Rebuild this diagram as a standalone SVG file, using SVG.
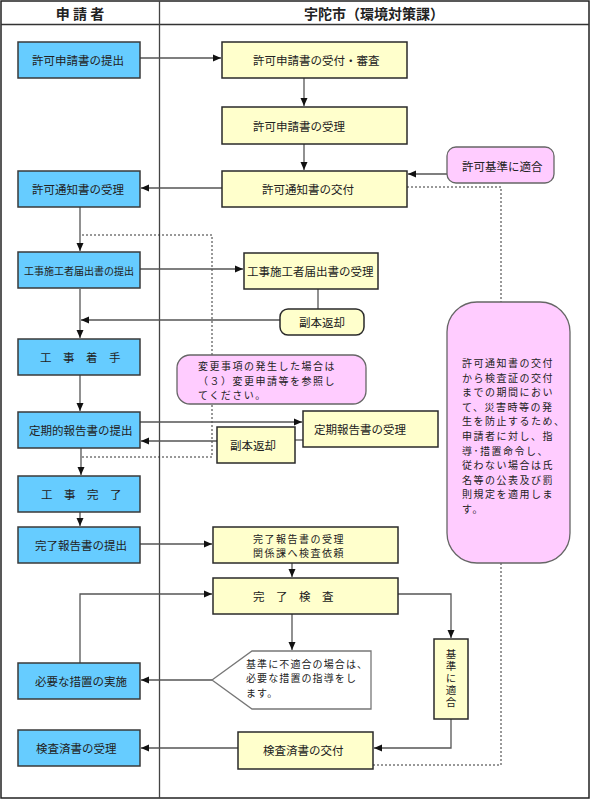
<svg xmlns="http://www.w3.org/2000/svg" width="591" height="800" viewBox="0 0 591 800">
<defs>
<marker id="ah" viewBox="0 0 8 8" refX="8" refY="4" markerWidth="8" markerHeight="8" markerUnits="userSpaceOnUse" orient="auto">
<path d="M0,0.5 L8,4 L0,7.5 Z" fill="#111"/>
</marker>
<style>
text{font-family:"Noto Sans CJK JP","Noto Sans",sans-serif;fill:#222;font-size:11.5px;dominant-baseline:central}
.h{font-size:14px;font-weight:bold}
.blue{fill:#66CCFF;stroke:#3a3a3a;stroke-width:1.5}
.yel{fill:#FFFFCC;stroke:#2a2a2a;stroke-width:1.5}
.pink{fill:#FFCCFF;stroke:#666;stroke-width:1.3}
.wht{fill:#fff;stroke:#777;stroke-width:1.3}
.c{fill:none;stroke:#555;stroke-width:1.3}
.a{fill:none;stroke:#555;stroke-width:1.3;marker-end:url(#ah)}
.d{fill:none;stroke:#333;stroke-width:1;stroke-dasharray:2,2}
.sm{font-size:10px}
.ml{font-size:10px;letter-spacing:1.5px}
.vt{font-size:10.5px;writing-mode:vertical-rl;letter-spacing:1.5px}
</style>
</defs>
<rect x="0" y="0" width="591" height="800" fill="#fff"/>
<g id="frame">
<rect x="1" y="1" width="588" height="797" fill="none" stroke="#222" stroke-width="1.5"/>
<line x1="1" y1="24.5" x2="589" y2="24.5" stroke="#333" stroke-width="1.3"/>
<line x1="159.5" y1="1" x2="159.5" y2="798" stroke="#444" stroke-width="1.3"/>
<text class="h" x="80" y="13" text-anchor="middle">申 請 者</text>
<text class="h" x="374" y="13" text-anchor="middle">宇陀市（環境対策課）</text>
</g>
<g id="connectors">
<line class="a" x1="140" y1="58" x2="221" y2="58"/>
<line class="a" x1="304" y1="78" x2="304" y2="106"/>
<line class="a" x1="304" y1="144" x2="304" y2="170"/>
<line class="a" x1="447" y1="174" x2="408" y2="174"/>
<line class="a" x1="222" y1="188" x2="141" y2="188"/>
<path class="d" d="M407,187 H501 V302"/>
<path class="d" d="M501,563 V765 H373"/>
<line class="a" x1="80" y1="207" x2="80" y2="251"/>
<path class="d" d="M82,235 H212 V457 H82"/>
<line class="a" x1="140" y1="269" x2="243" y2="269"/>
<line class="c" x1="318" y1="289" x2="318" y2="309"/>
<line class="a" x1="280" y1="320" x2="81" y2="320"/>
<line class="a" x1="80" y1="289" x2="80" y2="338"/>
<line class="a" x1="80" y1="375" x2="80" y2="411"/>
<line class="a" x1="140" y1="422" x2="302" y2="422"/>
<line class="c" x1="295" y1="440" x2="303" y2="440"/>
<line class="a" x1="217" y1="441" x2="141" y2="441"/>
<line class="a" x1="81" y1="448" x2="81" y2="475"/>
<line class="a" x1="80" y1="512" x2="80" y2="526"/>
<line class="a" x1="140" y1="544" x2="212" y2="544"/>
<line class="a" x1="292" y1="563" x2="292" y2="577"/>
<path class="a" d="M80,663 V594 H212"/>
<path class="a" d="M398,594 H451 V638"/>
<line class="a" x1="292" y1="614" x2="292" y2="650"/>
<line class="a" x1="212" y1="680" x2="141" y2="680"/>
<path class="a" d="M451,719 V748 H374"/>
<line class="a" x1="238" y1="748" x2="141" y2="748"/>
</g>
<g id="n1"><rect class="blue" x="18" y="42" width="122" height="36"/><text x="32" y="60">許可申請書の提出</text></g>
<g id="n2"><rect class="blue" x="18" y="171" width="122" height="36"/><text x="32" y="189">許可通知書の受理</text></g>
<g id="n3"><rect class="blue" x="18" y="252" width="122" height="36"/><text class="sm" x="24" y="270">工事施工者届出書の提出</text></g>
<g id="n4"><rect class="blue" x="18" y="339" width="122" height="36"/><text x="40" y="357">工　事　着　手</text></g>
<g id="n5"><rect class="blue" x="18" y="412" width="122" height="36"/><text x="29" y="430">定期的報告書の提出</text></g>
<g id="n6"><rect class="blue" x="18" y="476" width="122" height="36"/><text x="41" y="494">工　事　完　了</text></g>
<g id="n7"><rect class="blue" x="18" y="527" width="122" height="36"/><text x="35" y="545">完了報告書の提出</text></g>
<g id="n8"><rect class="blue" x="18" y="663" width="122" height="36"/><text x="35" y="681">必要な措置の実施</text></g>
<g id="n9"><rect class="blue" x="18" y="730" width="122" height="36"/><text x="36" y="748">検査済書の受理</text></g>
<g id="r1"><rect class="yel" x="222" y="42" width="185" height="36"/><text x="253" y="60">許可申請書の受付・審査</text></g>
<g id="r2"><rect class="yel" x="222" y="107" width="185" height="37"/><text x="253" y="126">許可申請書の受理</text></g>
<g id="r3"><rect class="yel" x="222" y="171" width="185" height="36"/><text x="262" y="189">許可通知書の交付</text></g>
<g id="p1"><rect class="pink" x="447" y="147" width="107" height="36" rx="9"/><text x="462" y="166">許可基準に適合</text></g>
<g id="r4"><rect class="yel" x="244" y="253" width="134" height="36"/><text x="247" y="271">工事施工者届出書の受理</text></g>
<g id="r5"><rect class="yel" x="280" y="309" width="84" height="26" rx="8"/><text x="299" y="322">副本返却</text></g>
<g id="p2"><rect class="pink" x="177" y="355" width="189" height="49" rx="13"/>
<text class="ml" x="198" y="365"><tspan x="198">変更事項の発生した場合は</tspan><tspan x="198" dy="14.6">（３）変更申請等を参照し</tspan><tspan x="198" dy="14.6">てください。</tspan></text></g>
<g id="r6"><rect class="yel" x="303" y="411" width="135" height="36"/><text x="314" y="429">定期報告書の受理</text></g>
<g id="r7"><rect class="yel" x="217" y="427" width="78" height="36"/><text x="230" y="445">副本返却</text></g>
<g id="p3"><rect class="pink" x="447" y="302" width="123" height="261" rx="30"/>
<text class="ml" x="462" y="362"><tspan x="462">許可通知書の交付</tspan><tspan x="462" dy="14.6">から検査証の交付</tspan><tspan x="462" dy="14.6">までの期間におい</tspan><tspan x="462" dy="14.6">て、災害時等の発</tspan><tspan x="462" dy="14.6">生を防止するため、</tspan><tspan x="462" dy="14.6">申請者に対し、指</tspan><tspan x="462" dy="14.6">導･措置命令し、</tspan><tspan x="462" dy="14.6">従わない場合は氏</tspan><tspan x="462" dy="14.6">名等の公表及び罰</tspan><tspan x="462" dy="14.6">則規定を適用しま</tspan><tspan x="462" dy="14.6">す。</tspan></text></g>
<g id="r8"><rect class="yel" x="213" y="527" width="185" height="36"/>
<text class="ml" x="253" y="537.7"><tspan x="253">完了報告書の受理</tspan><tspan x="253" dy="14.6">関係課へ検査依頼</tspan></text></g>
<g id="r9"><rect class="yel" x="213" y="578" width="185" height="36"/><text x="253" y="596">完　了　検　査</text></g>
<g id="h1"><path class="wht" d="M212,680 L252,651 H371 V709 H252 Z"/>
<text class="ml" x="246" y="662.5" style="letter-spacing:1.1px"><tspan x="246">基準に不適合の場合は、</tspan><tspan x="246" dy="14.6">必要な措置の指導をし</tspan><tspan x="246" dy="14.6">ます。</tspan></text></g>
<g id="r10"><rect class="yel" x="434" y="639" width="34" height="80"/>
<text class="vt" x="451" y="649">基準に適合</text></g>
<g id="r11"><rect class="yel" x="238" y="732" width="135" height="37"/><text x="263" y="750">検査済書の交付</text></g>
</svg>
